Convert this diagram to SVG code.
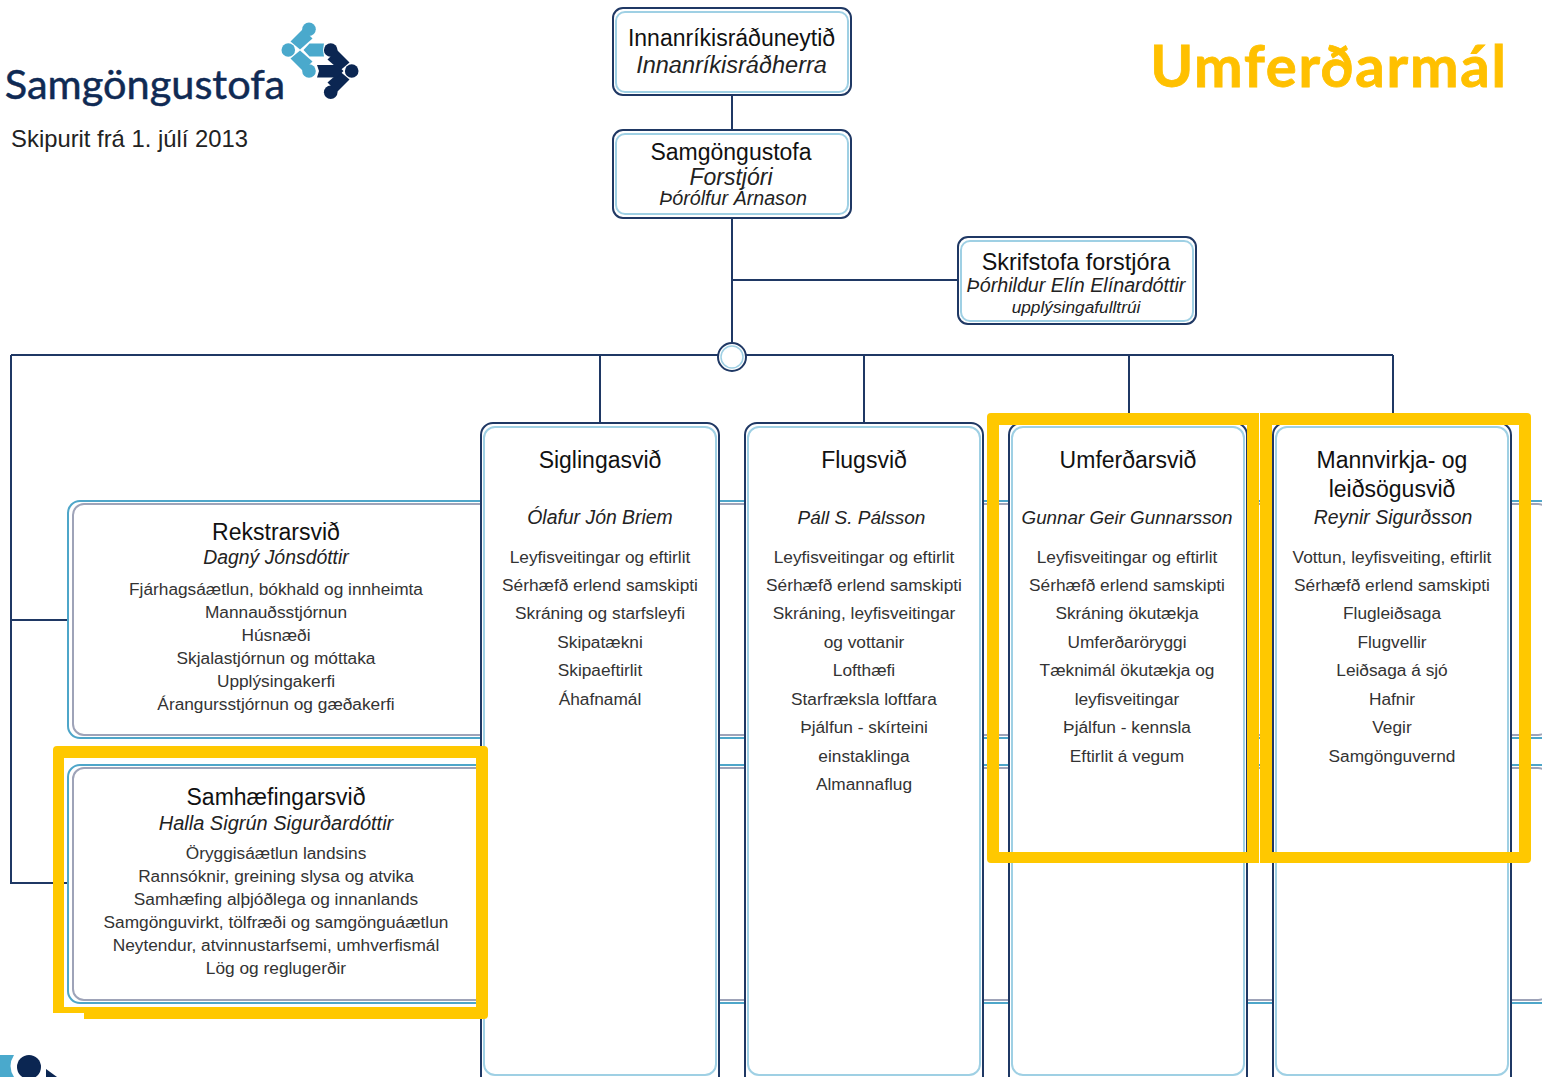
<svg xmlns="http://www.w3.org/2000/svg" width="1542" height="1077" viewBox="0 0 1542 1077">
<style>
text{font-family:"Liberation Sans",Arial,sans-serif;text-anchor:middle;fill:#222}
.h{font-size:23px;fill:#111}
.n{font-size:19.400px;font-style:italic}
.s{font-size:19.700px;font-style:italic}
.x{font-size:17.300px;font-style:italic}
.i{font-size:17.300px;fill:#333}
.o{fill:#fff;stroke:#1f3864;stroke-width:2}
.in{fill:#fff;stroke:#9fd0e4;stroke-width:2}
.wo{fill:#fff;stroke:#4ea6c9;stroke-width:2}
.wi{fill:#fff;stroke:#9ea3b8;stroke-width:2}
.c{fill:none;stroke:#1f3864;stroke-width:2}
.y{fill:#ffc800;fill-rule:evenodd}
.lb{fill:#4aa9cc}.db{fill:#0b2652}
</style>
<rect width="1542" height="1077" fill="#fff"/>
<g id="logo">
<circle class="lb" cx="309" cy="29.300" r="6.800"/><circle class="lb" cx="288.300" cy="50" r="6.800"/><circle class="lb" cx="309" cy="71" r="6.800"/>
<polygon class="lb" points="290.500,41.500 303,29 312.500,38.500 300,49.500"/><polygon class="lb" points="290.500,58.500 303,71 312.500,61.500 300,50.500"/>
<polygon class="lb" points="303.500,50 309.500,43.500 324,43.500 323,50 324,56.500 309.500,56.500"/>
<circle class="db" cx="330.700" cy="50" r="6.800"/><circle class="db" cx="351.700" cy="71" r="6.800"/><circle class="db" cx="330.700" cy="92.300" r="6.800"/>
<polygon class="db" points="349.500,62.500 337,50 327.500,59.500 340,70.500"/><polygon class="db" points="349.500,79.500 337,92 327.500,82.500 340,71.500"/>
<polygon class="db" points="317,65 337,65 343.500,71 337,77.500 317,77.500 319,71"/>
<text x="145" y="98.500" style="font-family:Lato,sans-serif;font-size:41.500px;fill:#0f2a54;stroke:#0f2a54;stroke-width:.5">Samgöngustofa</text>
<text x="129.500" y="147" style="font-size:23.800px;fill:#222">Skipurit frá 1. júlí 2013</text>
</g>
<text id="title" x="1329" y="87" style="font-family:Lato,sans-serif;font-weight:700;font-size:58px;letter-spacing:1.800px;fill:#ffc000;stroke:#ffc000;stroke-width:.8">Umferðarmál</text>
<g id="connectors">
<path class="c" d="M732 95V130M732 218V345M732 280H958M11 355H1393M600 355V423M864 355V423M1129 355V423M1393 355V423M11 355V883H68M11 620H68"/>
</g>
<g id="rekstrarsvid">
<rect class="wo" x="68" y="501" width="1500" height="237" rx="12"/><rect class="wi" x="73" y="504" width="1476" height="231" rx="11"/>
<text class="h" x="276" y="540">Rekstrarsvið</text><text class="n" x="276" y="564">Dagný Jónsdóttir</text>
<text class="i" x="276" y="595">Fjárhagsáætlun, bókhald og innheimta</text><text class="i" x="276" y="618">Mannauðsstjórnun</text><text class="i" x="276" y="641">Húsnæði</text><text class="i" x="276" y="664">Skjalastjórnun og móttaka</text><text class="i" x="276" y="687">Upplýsingakerfi</text><text class="i" x="276" y="710">Árangursstjórnun og gæðakerfi</text>
</g>
<g id="samhaefingarsvid">
<rect class="wo" x="68" y="765" width="1500" height="238" rx="12"/><rect class="wi" x="73" y="768" width="1476" height="232" rx="11"/>
<text class="h" x="276" y="805">Samhæfingarsvið</text><text class="n" x="276" y="830" style="font-size:20px">Halla Sigrún Sigurðardóttir</text>
<text class="i" x="276" y="859">Öryggisáætlun landsins</text><text class="i" x="276" y="882">Rannsóknir, greining slysa og atvika</text><text class="i" x="276" y="905">Samhæfing alþjóðlega og innanlands</text><text class="i" x="276" y="928">Samgönguvirkt, tölfræði og samgönguáætlun</text><text class="i" x="276" y="951">Neytendur, atvinnustarfsemi, umhverfismál</text><text class="i" x="276" y="974">Lög og reglugerðir</text>
</g>
<g id="innanrikisraduneytid">
<rect class="o" x="613" y="8" width="238" height="87" rx="10"/><rect class="in" x="616" y="12" width="232" height="80" rx="9"/>
<text class="h" x="731.500" y="46">Innanríkisráðuneytið</text><text class="n" x="731.500" y="73" style="font-size:23.500px">Innanríkisráðherra</text>
</g>
<g id="samgongustofa">
<rect class="o" x="613" y="130" width="238" height="88" rx="10"/><rect class="in" x="616" y="134" width="232" height="80" rx="9"/>
<text class="h" x="731" y="160">Samgöngustofa</text><text class="n" x="731" y="185" style="font-size:23px">Forstjóri</text><text class="s" x="733" y="205">Þórólfur Árnason</text>
</g>
<g id="skrifstofa">
<rect class="o" x="958" y="237" width="238" height="87" rx="10"/><rect class="in" x="961" y="241" width="232" height="80" rx="9"/>
<text class="h" x="1076" y="270" style="font-size:23.400px">Skrifstofa forstjóra</text><text class="n" x="1076" y="292" style="font-size:19.700px">Þórhildur Elín Elínardóttir</text><text class="x" x="1076" y="313">upplýsingafulltrúi</text>
</g>
<g id="hub"><circle class="o" cx="732" cy="357" r="14"/><circle class="in" cx="732" cy="357" r="11" style="stroke-width:1.500"/></g>
<g id="siglingasvid">
<rect class="o" x="481" y="423" width="238" height="680" rx="12"/><rect class="in" x="484" y="427" width="232" height="648" rx="11"/>
<text class="h" x="600" y="468">Siglingasvið</text><text class="n" x="600" y="524">Ólafur Jón Briem</text>
<text class="i" x="600" y="563">Leyfisveitingar og eftirlit</text><text class="i" x="600" y="591">Sérhæfð erlend samskipti</text><text class="i" x="600" y="619">Skráning og starfsleyfi</text><text class="i" x="600" y="648">Skipatækni</text><text class="i" x="600" y="676">Skipaeftirlit</text><text class="i" x="600" y="705">Áhafnamál</text>
</g>
<g id="flugsvid">
<rect class="o" x="745" y="423" width="238" height="680" rx="12"/><rect class="in" x="748" y="427" width="232" height="648" rx="11"/>
<text class="h" x="864" y="468">Flugsvið</text><text class="n" x="861.500" y="524" style="font-size:19px">Páll S. Pálsson</text>
<text class="i" x="864" y="563">Leyfisveitingar og eftirlit</text><text class="i" x="864" y="591">Sérhæfð erlend samskipti</text><text class="i" x="864" y="619">Skráning, leyfisveitingar</text><text class="i" x="864" y="648">og vottanir</text><text class="i" x="864" y="676">Lofthæfi</text><text class="i" x="864" y="705">Starfræksla loftfara</text><text class="i" x="864" y="733">Þjálfun - skírteini</text><text class="i" x="864" y="762">einstaklinga</text><text class="i" x="864" y="790">Almannaflug</text>
</g>
<g id="umferdarsvid">
<rect class="o" x="1009" y="423" width="238" height="680" rx="12"/><rect class="in" x="1012" y="427" width="232" height="648" rx="11"/>
<text class="h" x="1128" y="468">Umferðarsvið</text><text class="n" x="1127" y="524" style="font-size:18.800px">Gunnar Geir Gunnarsson</text>
<text class="i" x="1127" y="563">Leyfisveitingar og eftirlit</text><text class="i" x="1127" y="591">Sérhæfð erlend samskipti</text><text class="i" x="1127" y="619">Skráning ökutækja</text><text class="i" x="1127" y="648">Umferðaröryggi</text><text class="i" x="1127" y="676">Tæknimál ökutækja og</text><text class="i" x="1127" y="705">leyfisveitingar</text><text class="i" x="1127" y="733">Þjálfun - kennsla</text><text class="i" x="1127" y="762">Eftirlit á vegum</text>
</g>
<g id="mannvirkjasvid">
<rect class="o" x="1273" y="423" width="238" height="680" rx="12"/><rect class="in" x="1276" y="427" width="232" height="648" rx="11"/>
<text class="h" x="1392" y="468">Mannvirkja- og</text><text class="h" x="1392" y="497">leiðsögusvið</text><text class="n" x="1393" y="524">Reynir Sigurðsson</text>
<text class="i" x="1392" y="563">Vottun, leyfisveiting, eftirlit</text><text class="i" x="1392" y="591">Sérhæfð erlend samskipti</text><text class="i" x="1392" y="619">Flugleiðsaga</text><text class="i" x="1392" y="648">Flugvellir</text><text class="i" x="1392" y="676">Leiðsaga á sjó</text><text class="i" x="1392" y="705">Hafnir</text><text class="i" x="1392" y="733">Vegir</text><text class="i" x="1392" y="762">Samgönguvernd</text>
</g>
<g id="logo-fragment">
<path class="lb" d="M0 1055H14Q7 1066 14 1077H0Z"/><circle class="db" cx="29" cy="1067" r="12"/><polygon class="db" points="46,1069 57,1077 46,1077"/>
</g>
<g id="highlights">
<path class="y" d="M991 413H1259V863H991Q987 863 987 859V417Q987 413 991 413ZM999 425V852H1247V425Z"/>
<path class="y" d="M1260 413H1527Q1531 413 1531 417V859Q1531 863 1527 863H1260ZM1272 425V852H1519V425Z"/>
<path class="y" d="M57 746H484Q488 746 488 750V1015Q488 1019 484 1019H84V1013H53V750Q53 746 57 746ZM64 758V1007H476V758Z"/>
</g>
</svg>
